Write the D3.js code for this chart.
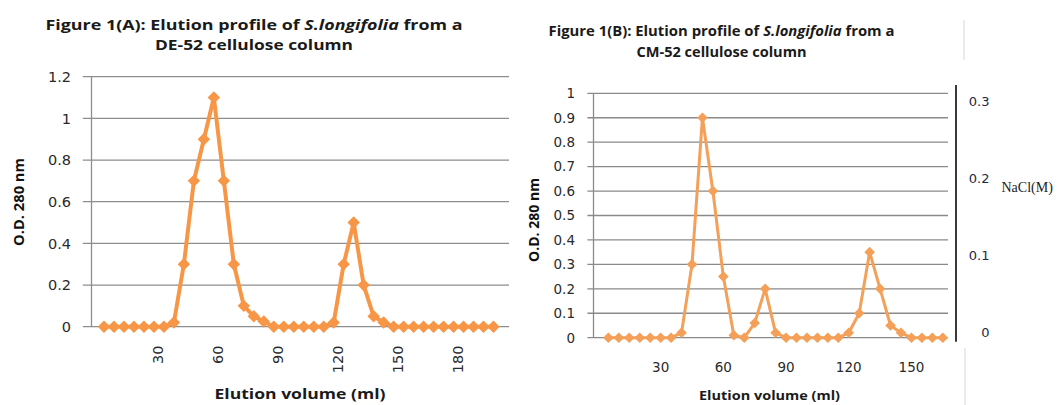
<!DOCTYPE html>
<html>
<head>
<meta charset="utf-8">
<script src="https://cdn.jsdelivr.net/npm/d3@7"></script>
<style>
  html, body { margin: 0; padding: 0; background: #fff; }
  svg { display: block; }
</style>
</head>
<body>
<svg id="chart" width="1059" height="405"></svg>
<script>
// ---------------- DATA ----------------
const catsA = [5,10,15,20,25,30,35,40,45,50,55,60,65,70,75,80,85,90,95,100,105,110,115,120,125,130,135,140,145,150,155,160,165,170,175,180,185,190,195,200];
const odA   = [0,0,0,0,0,0,0,0.02,0.3,0.7,0.9,1.1,0.7,0.3,0.1,0.05,0.025,0,0,0,0,0,0,0.02,0.3,0.5,0.2,0.05,0.02,0,0,0,0,0,0,0,0,0,0,0];
const yTicksA = [0,0.2,0.4,0.6,0.8,1,1.2];
const xLabelsA = [30,60,90,120,150,180];

const catsB = [5,10,15,20,25,30,35,40,45,50,55,60,65,70,75,80,85,90,95,100,105,110,115,120,125,130,135,140,145,150,155,160,165];
const odB   = [0,0,0,0,0,0,0,0.02,0.3,0.9,0.6,0.25,0.01,0,0.06,0.2,0.02,0,0,0,0,0,0,0.02,0.1,0.35,0.2,0.05,0.02,0,0,0,0];
const yTicksB = [0,0.1,0.2,0.3,0.4,0.5,0.6,0.7,0.8,0.9,1];
const xLabelsB = [30,60,90,120,150];
const naclTicks = [0,0.1,0.2,0.3];

// ---------------- DRAW ----------------
const svg = d3.select("#chart");
const fmt = d => String(+d.toFixed(2));
const diamond = r => `M0,${-r}L${r},0L0,${r}L${-r},0Z`;

function panel(o) {
  const g = svg.append("g");
  const x = d3.scalePoint().domain(o.cats).range(o.xRange);
  const y = d3.scaleLinear().domain(o.yDomain).range(o.yRange);

  g.selectAll("line.grid").data(o.yTicks).join("line")
    .attr("x1", o.gridX[0]).attr("x2", o.gridX[1])
    .attr("y1", d => y(d)).attr("y2", d => y(d))
    .attr("stroke", o.gridColor).attr("stroke-width", 1.3);
  g.append("line").attr("x1", o.axisX).attr("x2", o.axisX)
    .attr("y1", y(o.yDomain[1])).attr("y2", y(0))
    .attr("stroke", o.gridColor).attr("stroke-width", 1.3);
  g.selectAll("text.yt").data(o.yTicks).join("text")
    .attr("x", o.yLabelX).attr("y", d => y(d)).attr("dy", "0.36em")
    .attr("text-anchor", "end")
    .style("font-family", "DejaVu Sans, sans-serif").style("font-size", o.tickFont + "px")
    .attr("fill", "#2a2a2a").text(fmt);

  const line = d3.line().x((d, i) => x(o.cats[i])).y(d => y(d));
  g.append("path").datum(o.vals).attr("d", line)
    .attr("fill", "none").attr("stroke", o.color)
    .attr("stroke-width", o.lineW).attr("stroke-linejoin", "round");
  g.selectAll("path.mk").data(o.vals).join("path")
    .attr("transform", (d, i) => `translate(${x(o.cats[i])},${y(d)})`)
    .attr("d", diamond(o.mk)).attr("fill", o.color);
  return { g, x, y };
}

// ===== Panel A =====
const A = panel({
  cats: catsA, vals: odA, xRange: [104, 493.5], yDomain: [0, 1.2], yRange: [326.7, 76.7],
  yTicks: yTicksA, gridX: [82.8, 509], axisX: 91.5, yLabelX: 71, gridColor: "#8e8e8e",
  tickFont: 14.5, color: "#F79646", lineW: 4, mk: 6.2
});
A.g.selectAll("text.xt").data(xLabelsA).join("text")
  .attr("transform", d => `translate(${A.x(d) + 4},345.5) rotate(-90)`)
  .attr("dy", "0.36em").attr("text-anchor", "end")
  .style("font-family", "DejaVu Sans, sans-serif").style("font-size", "14.5px")
  .attr("fill", "#2a2a2a").text(d => d);

function title(cx, y1, y2, prefix, label2, fs, w1, w2) {
  const t1 = svg.append("text").attr("x", cx).attr("y", y1).attr("text-anchor", "middle")
    .attr("textLength", w1).attr("lengthAdjust", "spacingAndGlyphs")
    .style("font-family", "Open Sans, sans-serif").style("font-weight", 700)
    .style("font-size", fs + "px").attr("fill", "#1a1a1a");
  t1.append("tspan").text(prefix + " Elution profile of ");
  t1.append("tspan").style("font-style", "italic").text("S.longifolia");
  t1.append("tspan").text(" from a");
  svg.append("text").attr("x", cx).attr("y", y2).attr("text-anchor", "middle")
    .attr("textLength", w2).attr("lengthAdjust", "spacingAndGlyphs")
    .style("font-family", "Open Sans, sans-serif").style("font-weight", 700)
    .style("font-size", fs + "px").attr("fill", "#1a1a1a").text(label2);
}
title(254, 29.5, 50, "Figure 1(A):", "DE-52 cellulose column", 15, 417, 198);

svg.append("text").attr("transform", "translate(18.6,202) rotate(-90)")
  .attr("text-anchor", "middle").attr("dy", "0.36em")
  .attr("textLength", 88).attr("lengthAdjust", "spacingAndGlyphs")
  .style("font-family", "Open Sans, sans-serif").style("font-weight", 700).style("font-size", "14px")
  .attr("fill", "#111").text("O.D. 280 nm");
svg.append("text").attr("x", 300).attr("y", 399).attr("text-anchor", "middle")
  .attr("textLength", 171).attr("lengthAdjust", "spacingAndGlyphs")
  .style("font-family", "Open Sans, sans-serif").style("font-weight", 700).style("font-size", "15px")
  .attr("fill", "#1a1a1a").text("Elution volume (ml)");

// ===== Panel B =====
const B = panel({
  cats: catsB, vals: odB, xRange: [608.4, 942.8], yDomain: [0, 1], yRange: [337.7, 93.3],
  yTicks: yTicksB, gridX: [587.4, 948], axisX: 593.5, yLabelX: 575, gridColor: "#8a8a8a",
  tickFont: 13.5, color: "#F4A058", lineW: 3, mk: 5.3
});
B.g.selectAll("text.xt").data(xLabelsB).join("text")
  .attr("x", d => B.x(d)).attr("y", 367.6).attr("dy", "0.36em").attr("text-anchor", "middle")
  .style("font-family", "DejaVu Sans, sans-serif").style("font-size", "13.5px")
  .attr("fill", "#2a2a2a").text(d => d);

// right NaCl axis
const yN = d3.scaleLinear().domain([0, 0.3]).range([332, 101.7]);
svg.append("line").attr("x1", 956).attr("x2", 956).attr("y1", 85).attr("y2", 341.7)
  .attr("stroke", "#3a3a3a").attr("stroke-width", 2);
svg.selectAll("text.nt").data(naclTicks).join("text")
  .attr("x", 989.5).attr("y", d => yN(d)).attr("dy", "0.36em").attr("text-anchor", "end")
  .style("font-family", "DejaVu Sans, sans-serif").style("font-size", "13px")
  .attr("fill", "#1c2a44").text(fmt);
svg.append("text").attr("x", 1001.5).attr("y", 186.7).attr("dy", "0.36em")
  .style("font-family", "Liberation Serif, serif").style("font-size", "14px")
  .attr("fill", "#222").text("NaCl(M)");

title(721.5, 36, 57, "Figure 1(B):", "CM-52 cellulose  column", 13.5, 346, 170);

svg.append("text").attr("transform", "translate(534,220) rotate(-90)")
  .attr("text-anchor", "middle").attr("dy", "0.36em")
  .attr("textLength", 84).attr("lengthAdjust", "spacingAndGlyphs")
  .style("font-family", "Open Sans, sans-serif").style("font-weight", 700).style("font-size", "13.5px")
  .attr("fill", "#111").text("O.D. 280 nm");
svg.append("text").attr("x", 769.5).attr("y", 400).attr("text-anchor", "middle")
  .attr("textLength", 141).attr("lengthAdjust", "spacingAndGlyphs")
  .style("font-family", "Open Sans, sans-serif").style("font-weight", 700).style("font-size", "13px")
  .attr("fill", "#1a1a1a").text("Elution volume (ml)");

// faint scan edges
svg.append("line").attr("x1", 964).attr("x2", 964).attr("y1", 20).attr("y2", 60)
  .attr("stroke", "#e4e4e4").attr("stroke-width", 1.5);
svg.append("line").attr("x1", 965).attr("x2", 965).attr("y1", 348).attr("y2", 405)
  .attr("stroke", "#e4e4e4").attr("stroke-width", 1.5);
</script>
</body>
</html>
